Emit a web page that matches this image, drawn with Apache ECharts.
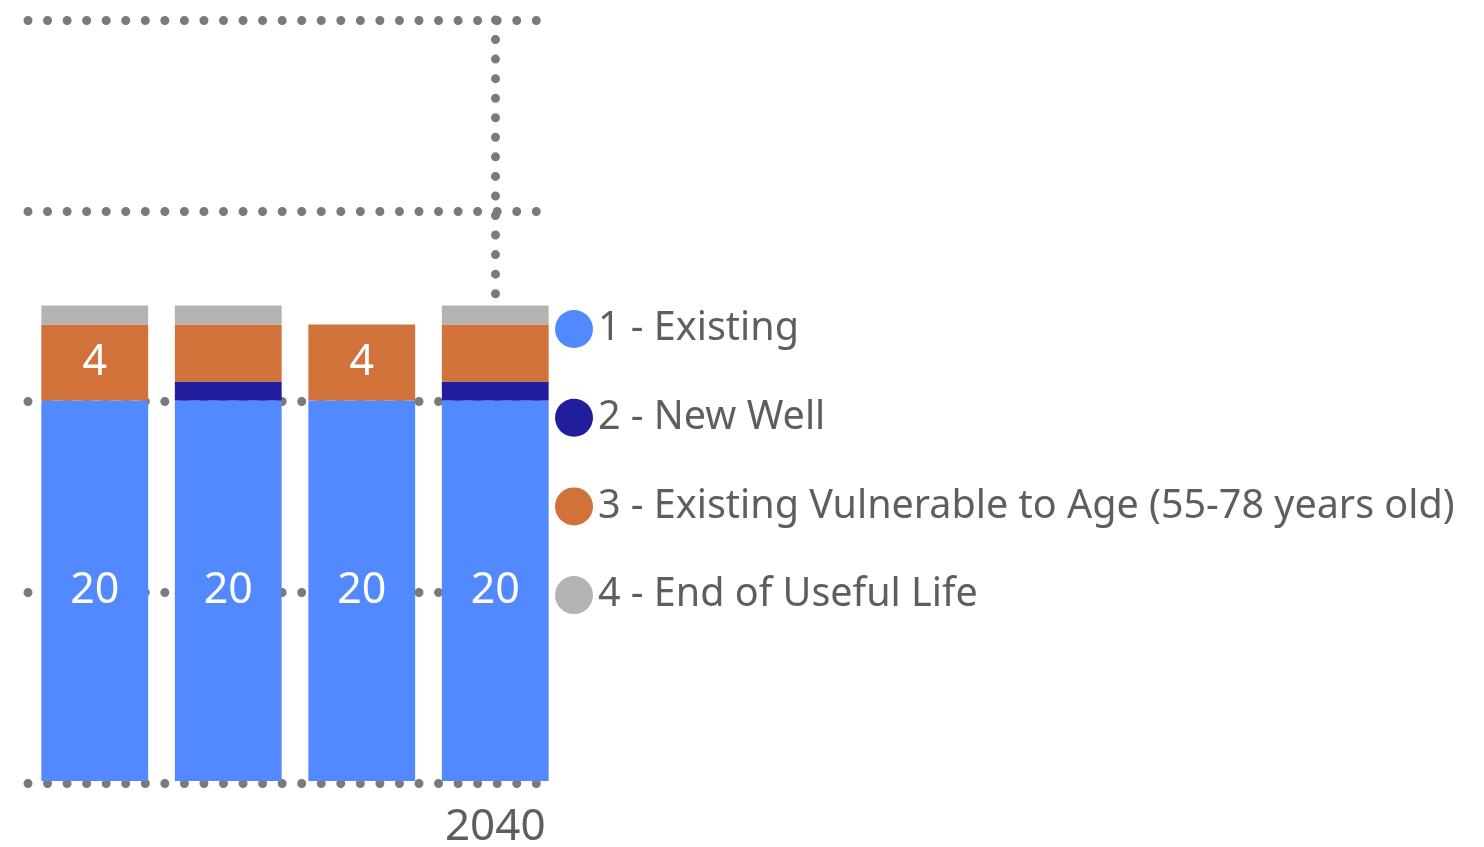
<!DOCTYPE html>
<html>
<head>
<meta charset="utf-8">
<script src="https://cdn.jsdelivr.net/npm/echarts@6/dist/echarts.min.js"></script>
<style>html,body{margin:0;padding:0;background:#fff;}#c{width:1484px;height:847px;}</style>
</head>
<body>
<div id="c"></div>
<script>
const categories = ['', '', '', '2040'];
const seriesNames = ['1 - Existing', '2 - New Well', '3 - Existing Vulnerable to Age (55-78 years old)', '4 - End of Useful Life'];
const existing = [20, 20, 20, 20];
const newWell = [0, 1, 0, 1];
const vulnerable = [4, 3, 4, 3];
const endOfLife = [1, 1, 0, 1];
const yTicks = [0, 10, 20, 30, 40];
const colors = ['#5289FF', '#211D9C', '#D0723A', '#B3B3B3'];

const FONT = 'Noto Sans';
const dotStyle = { color: '#7A7A7A', width: 9, type: [0, 19.55], cap: 'round' };
const stackTop3 = existing.map((v, i) => v + newWell[i] + vulnerable[i] + endOfLife[i]);

const chart = echarts.init(document.getElementById('c'));
const labelCfg = (minShow) => ({
  show: true, position: 'inside', color: '#fff', fontSize: 43, fontFamily: FONT,
  formatter: p => (p.value >= minShow ? String(p.value) : '')
});
chart.setOption({
  animation: false,
  color: colors,
  textStyle: { fontFamily: FONT },
  legend: {
    orient: 'vertical', left: 555, top: 309, icon: 'circle',
    itemWidth: 38, itemHeight: 38, itemGap: 48.7, padding: 0,
    textStyle: { fontSize: 39.5, color: '#605E5C', fontFamily: FONT, lineHeight: 38 },
    data: seriesNames
  },
  grid: [
    { left: 28, width: 534, top: 20, height: 761, outerBoundsMode: 'none', containLabel: false },
    { left: 28, width: 512, top: 20, height: 763, outerBoundsMode: 'none', containLabel: false }
  ],
  xAxis: [
    { type: 'category', gridIndex: 0, data: categories,
      axisLine: { show: false }, axisTick: { show: false },
      axisLabel: { fontSize: 44, color: '#605E5C', margin: 24, fontFamily: FONT } },
    { type: 'value', gridIndex: 1, show: false, min: 0, max: 1 }
  ],
  yAxis: [
    { type: 'value', gridIndex: 0, min: yTicks[0], max: yTicks[yTicks.length - 1], interval: 10,
      axisLabel: { show: false }, axisLine: { show: false }, splitLine: { show: false } },
    { type: 'value', gridIndex: 1, min: yTicks[0], max: yTicks[yTicks.length - 1], interval: 10,
      axisLabel: { show: false }, axisLine: { show: false }, axisTick: { show: false },
      splitLine: { show: true, lineStyle: dotStyle } }
  ],
  series: [
    { name: seriesNames[0], type: 'bar', stack: 's', data: existing, barCategoryGap: '20%', label: labelCfg(1), z: 3 },
    { name: seriesNames[1], type: 'bar', stack: 's', data: newWell, z: 3 },
    { name: seriesNames[2], type: 'bar', stack: 's', data: vulnerable, label: labelCfg(4), z: 3 },
    { name: seriesNames[3], type: 'bar', stack: 's', data: endOfLife, z: 3,
      markLine: {
        symbol: 'none', silent: true, label: { show: false },
        lineStyle: dotStyle,
        data: [[{ coord: [3, yTicks[yTicks.length - 1]] }, { coord: [3, stackTop3[3]] }]]
      } }
  ]
});
</script>
</body>
</html>
